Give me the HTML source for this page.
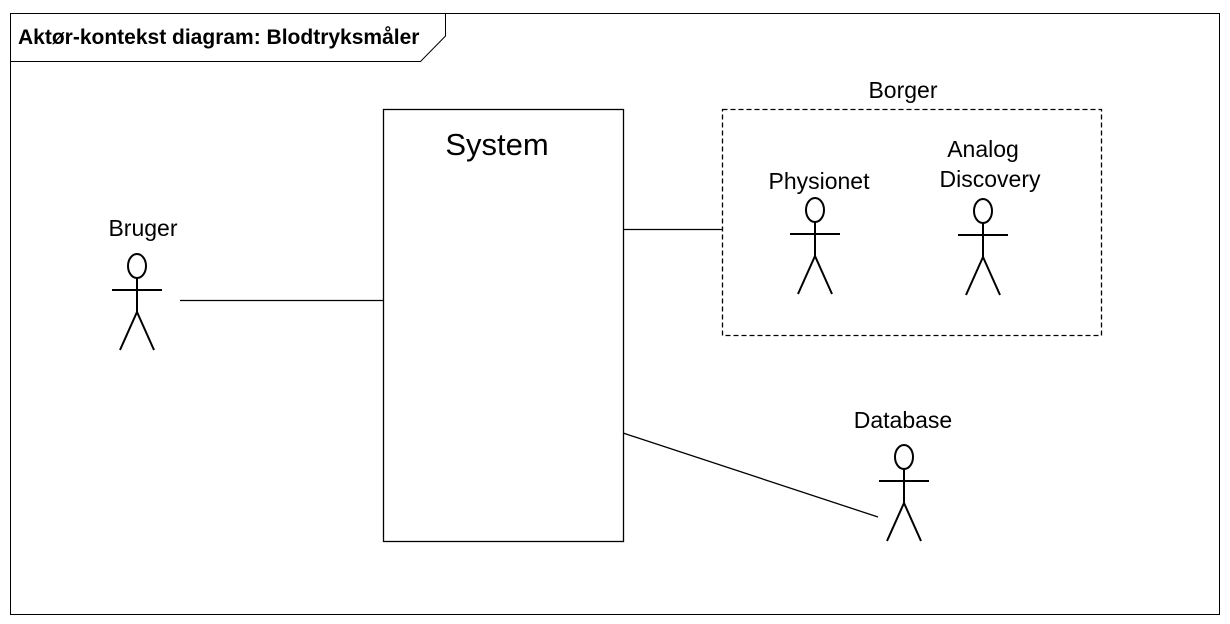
<!DOCTYPE html>
<html><head><style>body{margin:0;background:#fff}svg{display:block}</style></head><body>
<svg width="1230" height="624" xmlns="http://www.w3.org/2000/svg" font-family="Liberation Sans, Arial, sans-serif">
<rect x="0" y="0" width="1230" height="624" fill="#fff"/>
<rect x="10.5" y="13.5" width="1209" height="601" fill="none" stroke="#000"/>
<path d="M10.5 61.5 H420.5 L445.5 36 V13.5" fill="none" stroke="#000"/>
<text x="18" y="44" font-size="21" font-weight="bold">Aktør-kontekst diagram: Blodtryksmåler</text>
<g stroke="#000" stroke-width="1.3" fill="none">
<rect x="383.5" y="109.5" width="240" height="432" fill="#fff"/>
<rect x="722.5" y="109.5" width="379" height="226" stroke-dasharray="5,3"/>
<line x1="180" y1="300.5" x2="383" y2="300.5"/>
<line x1="623" y1="229.5" x2="722" y2="229.5"/>
<line x1="623" y1="433" x2="878" y2="517"/>
</g>
<g stroke="#000" stroke-width="2" fill="none">
<g transform="translate(137,266)"><ellipse cx="0" cy="0" rx="9" ry="12"/><line x1="-25" y1="24" x2="25" y2="24"/><line x1="0" y1="12" x2="0" y2="46"/><line x1="0" y1="46" x2="-17" y2="84"/><line x1="0" y1="46" x2="17" y2="84"/></g>
<g transform="translate(815,210)"><ellipse cx="0" cy="0" rx="9" ry="12"/><line x1="-25" y1="24" x2="25" y2="24"/><line x1="0" y1="12" x2="0" y2="46"/><line x1="0" y1="46" x2="-17" y2="84"/><line x1="0" y1="46" x2="17" y2="84"/></g>
<g transform="translate(983,211)"><ellipse cx="0" cy="0" rx="9" ry="12"/><line x1="-25" y1="24" x2="25" y2="24"/><line x1="0" y1="12" x2="0" y2="46"/><line x1="0" y1="46" x2="-17" y2="84"/><line x1="0" y1="46" x2="17" y2="84"/></g>
<g transform="translate(904,457)"><ellipse cx="0" cy="0" rx="9" ry="12"/><line x1="-25" y1="24" x2="25" y2="24"/><line x1="0" y1="12" x2="0" y2="46"/><line x1="0" y1="46" x2="-17" y2="84"/><line x1="0" y1="46" x2="17" y2="84"/></g>
</g>
<g font-size="23" text-anchor="middle" fill="#000">
<text x="143" y="236">Bruger</text>
<text x="497" y="155" font-size="31">System</text>
<text x="903" y="98">Borger</text>
<text x="819" y="189">Physionet</text>
<text x="983" y="157">Analog</text>
<text x="990" y="187">Discovery</text>
<text x="903" y="428">Database</text>
</g>
</svg>
</body></html>
